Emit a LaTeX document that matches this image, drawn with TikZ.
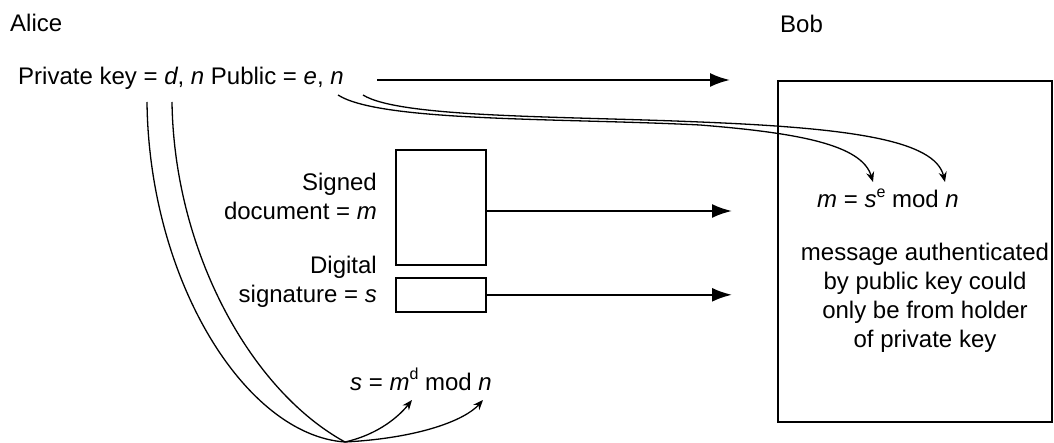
\documentclass[tikz,border=0pt]{standalone}
\usepackage{fontspec}
\setmainfont{Liberation Sans}
\usetikzlibrary{arrows.meta}
\newcommand{\sups}[1]{\raisebox{0.42em}{\fontsize{16}{16}\selectfont #1}}
\begin{document}
\begin{tikzpicture}[x=1pt,y=-1pt,
  font=\fontsize{24}{29}\selectfont,
  lbl/.style={inner sep=0pt},
  box/.style={draw, line width=1.6pt, inner sep=0pt, anchor=north west},
  sendarrow/.style={line width=2.2pt, -{Latex[length=20pt,width=14pt]}},
  keyline/.style={line width=1.3pt, -{Stealth[length=10pt,width=8pt]}}]
\useasboundingbox (0,0) rectangle (1054,443);

% parties
\node[lbl, anchor=base west] (alice) at (10,32) {Alice};
\node[lbl, anchor=base west] (bob) at (780,33) {Bob};

% Alice's key pair
\node[lbl, anchor=base west] (keys) at (18,85)
  {Private key = \textit{d}, \textit{n} Public = \textit{e}, \textit{n}};

% Bob's side
\node[box, minimum width=274pt, minimum height=341pt] (bobbox) at (777,80) {};
\node[lbl, anchor=base west] (verify) at (817,208)
  {\textit{m} = \textit{s}\sups{e} mod \textit{n}};
\node[lbl, align=center, anchor=north] (auth) at (925,243)
  {message authenticated\\by public key could\\only be from holder\\of private key};

% document and signature
\node[box, minimum width=90pt, minimum height=115pt] (doc) at (395,149) {};
\node[box, minimum width=90pt, minimum height=34pt] (sig) at (395,277) {};
\node[lbl, align=right, anchor=north east] (doclbl) at (377,173)
  {Signed\\document = \textit{m}};
\node[lbl, align=right, anchor=north east] (siglbl) at (377,256)
  {Digital\\signature = \textit{s}};

% signing formula
\node[lbl, anchor=base west] (sign) at (350,390)
  {\textit{s} = \textit{m}\sups{d} mod \textit{n}};

% connector end points
\coordinate (pubstart) at (377,80);
\coordinate (pubend) at (730,80);
\coordinate (docend) at (732,211);
\coordinate (sigend) at (732,294);
\coordinate (dkey) at (147,102);
\coordinate (nkey) at (172,102);
\coordinate (ekey) at (338,95);
\coordinate (npub) at (363,95);
\coordinate (cusp) at (345,442);
\coordinate (sm) at (412,400);
\coordinate (sn) at (483,400);
\coordinate (ve) at (873,182);
\coordinate (vn) at (945,182);

% transmissions to Bob
\draw[sendarrow] (pubstart) -- (pubend);
\draw[sendarrow] (doc.east |- docend) -- (docend);
\draw[sendarrow] (sig.east) -- (sig.east -| sigend);

% private key used for signing
\draw[keyline] (dkey) .. controls (149,280) and (245,435) .. (cusp)
  .. controls (420,438) and (465,420) .. (sn);
\draw[keyline] (nkey) .. controls (174,250) and (250,390) .. (cusp)
  .. controls (380,434) and (400,415) .. (sm);

% public key used for verification
\draw[keyline] (ekey) .. controls (380,122) and (560,118) .. (700,125)
  .. controls (800,133) and (862,145) .. (ve);
\draw[keyline] (npub) .. controls (400,118) and (560,116) .. (700,122)
  .. controls (850,128) and (935,140) .. (vn);
\end{tikzpicture}
\end{document}
